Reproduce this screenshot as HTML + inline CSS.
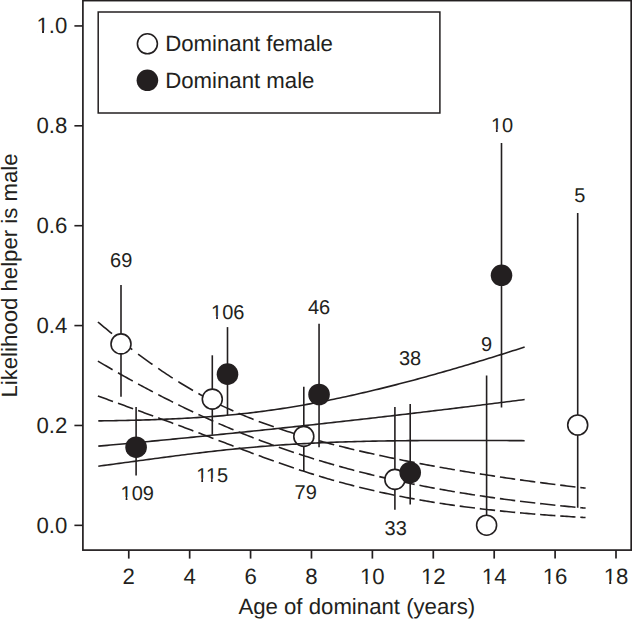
<!DOCTYPE html>
<html><head><meta charset="utf-8"><style>
html,body{margin:0;padding:0;background:#fff;}
svg{display:block;}
text{font-family:"Liberation Sans",sans-serif;fill:#231f20;text-rendering:geometricPrecision;}
.tk{font-size:22.2px;}
.lab{font-size:22.2px;}
.an{font-size:20px;}
</style></head><body>
<svg width="632" height="619" viewBox="0 0 632 619">
<rect width="632" height="619" fill="#fff"/>
<rect x="82.9" y="0.6" width="548.3" height="549.5" fill="none" stroke="#231f20" stroke-width="1.7"/>
<line x1="74.4" y1="525.35" x2="82.9" y2="525.35" stroke="#231f20" stroke-width="1.6"/>
<text x="67.3" y="532.85" text-anchor="end" class="tk">0.0</text>
<line x1="74.4" y1="425.47" x2="82.9" y2="425.47" stroke="#231f20" stroke-width="1.6"/>
<text x="67.3" y="432.97" text-anchor="end" class="tk">0.2</text>
<line x1="74.4" y1="325.58" x2="82.9" y2="325.58" stroke="#231f20" stroke-width="1.6"/>
<text x="67.3" y="333.08" text-anchor="end" class="tk">0.4</text>
<line x1="74.4" y1="225.70" x2="82.9" y2="225.70" stroke="#231f20" stroke-width="1.6"/>
<text x="67.3" y="233.20" text-anchor="end" class="tk">0.6</text>
<line x1="74.4" y1="125.81" x2="82.9" y2="125.81" stroke="#231f20" stroke-width="1.6"/>
<text x="67.3" y="133.31" text-anchor="end" class="tk">0.8</text>
<line x1="74.4" y1="25.93" x2="82.9" y2="25.93" stroke="#231f20" stroke-width="1.6"/>
<text x="67.3" y="33.43" text-anchor="end" class="tk">1.0</text>
<line x1="128.76" y1="550" x2="128.76" y2="558.6" stroke="#231f20" stroke-width="1.7"/>
<text x="128.76" y="583.6" text-anchor="middle" class="tk">2</text>
<line x1="189.66" y1="550" x2="189.66" y2="558.6" stroke="#231f20" stroke-width="1.7"/>
<text x="189.66" y="583.6" text-anchor="middle" class="tk">4</text>
<line x1="250.57" y1="550" x2="250.57" y2="558.6" stroke="#231f20" stroke-width="1.7"/>
<text x="250.57" y="583.6" text-anchor="middle" class="tk">6</text>
<line x1="311.47" y1="550" x2="311.47" y2="558.6" stroke="#231f20" stroke-width="1.7"/>
<text x="311.47" y="583.6" text-anchor="middle" class="tk">8</text>
<line x1="372.38" y1="550" x2="372.38" y2="558.6" stroke="#231f20" stroke-width="1.7"/>
<text x="372.38" y="583.6" text-anchor="middle" class="tk">10</text>
<line x1="433.29" y1="550" x2="433.29" y2="558.6" stroke="#231f20" stroke-width="1.7"/>
<text x="433.29" y="583.6" text-anchor="middle" class="tk">12</text>
<line x1="494.19" y1="550" x2="494.19" y2="558.6" stroke="#231f20" stroke-width="1.7"/>
<text x="494.19" y="583.6" text-anchor="middle" class="tk">14</text>
<line x1="555.10" y1="550" x2="555.10" y2="558.6" stroke="#231f20" stroke-width="1.7"/>
<text x="555.10" y="583.6" text-anchor="middle" class="tk">16</text>
<line x1="616.00" y1="550" x2="616.00" y2="558.6" stroke="#231f20" stroke-width="1.7"/>
<text x="616.00" y="583.6" text-anchor="middle" class="tk">18</text>
<text x="356.8" y="613.5" text-anchor="middle" class="lab">Age of dominant (years)</text>
<text transform="translate(16.9,275.5) rotate(-90)" text-anchor="middle" class="lab">Likelihood helper is male</text>
<rect x="98.2" y="12" width="341.7" height="101" fill="none" stroke="#231f20" stroke-width="1.5"/>
<circle cx="147.4" cy="43.8" r="10.0" fill="#fff" stroke="#231f20" stroke-width="1.6"/>
<circle cx="147.4" cy="80.3" r="10.8" fill="#231f20"/>
<text x="165.2" y="51.1" class="lab">Dominant female</text>
<text x="165.2" y="87.6" class="lab">Dominant male</text>
<path d="M97.90,322.01 L99.92,323.71 L101.94,325.39 L103.96,327.07 L105.99,328.73 L108.01,330.39 L110.03,332.05 L112.05,333.69 M118.00,338.48 L120.04,340.10 L122.09,341.72 L124.13,343.32 L126.17,344.92 L128.21,346.50 L130.26,348.07 L132.30,349.64 M138.10,354.02 L140.16,355.55 L142.21,357.07 L144.27,358.58 L146.33,360.07 L148.39,361.56 L150.44,363.03 L152.50,364.49 M158.20,368.46 L160.28,369.89 L162.36,371.30 L164.44,372.70 L166.51,374.08 L168.59,375.45 L170.67,376.81 L172.75,378.15 M178.30,381.67 L180.40,382.97 L182.50,384.26 L184.60,385.54 L186.70,386.80 L188.80,388.04 L190.90,389.27 L193.00,390.49 M198.40,393.54 L200.51,394.71 L202.63,395.87 L204.74,397.01 L206.86,398.13 L208.97,399.24 L211.09,400.34 L213.20,401.42 M218.50,404.06 L220.63,405.10 L222.76,406.12 L224.89,407.13 L227.01,408.12 L229.14,409.10 L231.27,410.07 L233.40,411.02 M238.60,413.30 L240.74,414.21 L242.89,415.12 L245.03,416.01 L247.17,416.88 L249.31,417.75 L251.46,418.60 L253.60,419.44 M258.70,421.40 L260.86,422.21 L263.01,423.01 L265.17,423.80 L267.33,424.58 L269.49,425.35 L271.64,426.11 L273.80,426.86 M278.80,428.56 L280.96,429.28 L283.13,429.99 L285.29,430.70 L287.46,431.40 L289.62,432.08 L291.79,432.77 L293.95,433.44 M298.90,434.95 L301.06,435.60 L303.23,436.24 L305.39,436.88 L307.56,437.50 L309.72,438.13 L311.89,438.74 L314.05,439.35 M319.00,440.72 L321.17,441.32 L323.34,441.90 L325.51,442.48 L327.69,443.06 L329.86,443.63 L332.03,444.19 L334.20,444.75 M339.10,446.00 L341.27,446.54 L343.44,447.08 L345.61,447.61 L347.79,448.14 L349.96,448.67 L352.13,449.19 L354.30,449.71 M359.20,450.86 L361.38,451.36 L363.56,451.86 L365.74,452.36 L367.91,452.85 L370.09,453.34 L372.27,453.82 L374.45,454.30 M379.30,455.36 L381.48,455.83 L383.66,456.30 L385.84,456.76 L388.01,457.22 L390.19,457.67 L392.37,458.13 L394.55,458.58 M399.40,459.56 L401.58,460.00 L403.76,460.44 L405.94,460.87 L408.11,461.30 L410.29,461.72 L412.47,462.15 L414.65,462.57 M419.50,463.49 L421.68,463.90 L423.86,464.31 L426.04,464.72 L428.21,465.12 L430.39,465.52 L432.57,465.91 L434.75,466.31 M439.60,467.18 L441.78,467.56 L443.96,467.94 L446.14,468.32 L448.31,468.70 L450.49,469.08 L452.67,469.45 L454.85,469.82 M459.70,470.64 L461.88,471.00 L464.06,471.36 L466.24,471.72 L468.41,472.07 L470.59,472.43 L472.77,472.78 L474.95,473.12 M479.80,473.89 L481.99,474.23 L484.17,474.57 L486.36,474.91 L488.54,475.25 L490.73,475.58 L492.91,475.91 L495.10,476.24 M499.90,476.96 L502.09,477.28 L504.27,477.60 L506.46,477.92 L508.64,478.23 L510.83,478.55 L513.01,478.86 L515.20,479.17 M520.00,479.84 L522.19,480.15 L524.37,480.45 L526.56,480.75 L528.74,481.04 L530.93,481.34 L533.11,481.63 L535.30,481.93 M540.10,482.56 L542.29,482.85 L544.47,483.13 L546.66,483.41 L548.84,483.69 L551.03,483.97 L553.21,484.25 L555.40,484.52 M560.20,485.12 L562.39,485.39 L564.57,485.66 L566.76,485.93 L568.94,486.19 L571.13,486.45 L573.31,486.71 L575.50,486.97 M580.30,487.54 L581.05,487.62 L581.80,487.71 L582.55,487.80 L583.30,487.88 L584.05,487.97 L584.80,488.06 L585.55,488.14" fill="none" stroke="#231f20" stroke-width="1.6"/>
<path d="M97.90,361.12 L100.00,362.36 L102.10,363.59 L104.20,364.83 L106.30,366.05 L108.40,367.27 L110.50,368.49 L112.60,369.70 M118.00,372.79 L120.11,373.99 L122.21,375.18 L124.32,376.36 L126.43,377.54 L128.54,378.72 L130.64,379.89 L132.75,381.05 M138.10,383.98 L140.21,385.13 L142.33,386.27 L144.44,387.41 L146.56,388.54 L148.67,389.66 L150.79,390.78 L152.90,391.90 M158.20,394.66 L160.32,395.76 L162.44,396.85 L164.56,397.93 L166.69,399.01 L168.81,400.08 L170.93,401.15 L173.05,402.21 M178.30,404.81 L180.43,405.85 L182.56,406.88 L184.69,407.91 L186.81,408.94 L188.94,409.95 L191.07,410.97 L193.20,411.97 M198.40,414.40 L200.54,415.39 L202.67,416.37 L204.81,417.34 L206.94,418.31 L209.08,419.27 L211.21,420.22 L213.35,421.17 M218.50,423.44 L220.64,424.37 L222.79,425.29 L224.93,426.21 L227.07,427.12 L229.21,428.02 L231.36,428.92 L233.50,429.81 M238.60,431.91 L240.75,432.79 L242.90,433.65 L245.05,434.52 L247.20,435.37 L249.35,436.22 L251.50,437.06 L253.65,437.90 M258.70,439.84 L260.85,440.65 L263.00,441.46 L265.15,442.26 L267.30,443.06 L269.45,443.85 L271.60,444.63 L273.75,445.41 M278.80,447.22 L280.96,447.98 L283.11,448.73 L285.27,449.48 L287.43,450.22 L289.59,450.96 L291.74,451.69 L293.90,452.41 M298.90,454.07 L301.06,454.78 L303.23,455.48 L305.39,456.17 L307.56,456.86 L309.72,457.55 L311.89,458.23 L314.05,458.90 M319.00,460.42 L321.16,461.07 L323.33,461.72 L325.49,462.36 L327.66,463.00 L329.82,463.63 L331.99,464.25 L334.15,464.88 M339.10,466.27 L341.27,466.88 L343.44,467.48 L345.61,468.07 L347.79,468.66 L349.96,469.24 L352.13,469.82 L354.30,470.40 M359.20,471.67 L361.37,472.23 L363.54,472.78 L365.71,473.32 L367.89,473.86 L370.06,474.40 L372.23,474.93 L374.40,475.46 M379.30,476.63 L381.48,477.14 L383.66,477.65 L385.84,478.15 L388.01,478.65 L390.19,479.14 L392.37,479.63 L394.55,480.11 M399.40,481.17 L401.58,481.64 L403.76,482.10 L405.94,482.56 L408.11,483.02 L410.29,483.47 L412.47,483.92 L414.65,484.36 M419.50,485.33 L421.68,485.76 L423.86,486.18 L426.04,486.60 L428.21,487.02 L430.39,487.43 L432.57,487.84 L434.75,488.24 M439.60,489.13 L441.78,489.52 L443.96,489.90 L446.14,490.29 L448.31,490.67 L450.49,491.04 L452.67,491.42 L454.85,491.78 M459.70,492.59 L461.89,492.95 L464.07,493.30 L466.26,493.65 L468.44,494.00 L470.63,494.34 L472.81,494.68 L475.00,495.02 M479.80,495.74 L481.99,496.07 L484.17,496.39 L486.36,496.71 L488.54,497.02 L490.73,497.34 L492.91,497.65 L495.10,497.95 M499.90,498.61 L502.09,498.91 L504.27,499.20 L506.46,499.49 L508.64,499.77 L510.83,500.06 L513.01,500.34 L515.20,500.62 M520.00,501.21 L522.19,501.48 L524.37,501.75 L526.56,502.01 L528.74,502.27 L530.93,502.53 L533.11,502.78 L535.30,503.03 M540.10,503.58 L542.29,503.82 L544.47,504.06 L546.66,504.30 L548.84,504.53 L551.03,504.77 L553.21,505.00 L555.40,505.22 M560.20,505.72 L562.39,505.94 L564.57,506.15 L566.76,506.37 L568.94,506.58 L571.13,506.79 L573.31,507.00 L575.50,507.21 M580.30,507.65 L581.05,507.72 L581.80,507.79 L582.55,507.86 L583.30,507.93 L584.05,507.99 L584.80,508.06 L585.55,508.13" fill="none" stroke="#231f20" stroke-width="1.6"/>
<path d="M97.90,395.99 L100.06,396.77 L102.21,397.55 L104.37,398.33 L106.53,399.11 L108.69,399.89 L110.84,400.68 L113.00,401.46 M118.00,403.26 L120.16,404.04 L122.31,404.82 L124.47,405.60 L126.63,406.38 L128.79,407.16 L130.94,407.95 L133.10,408.73 M138.10,410.54 L140.26,411.32 L142.41,412.10 L144.57,412.89 L146.73,413.67 L148.89,414.46 L151.04,415.24 L153.20,416.03 M158.20,417.86 L160.35,418.64 L162.50,419.43 L164.65,420.22 L166.80,421.01 L168.95,421.80 L171.10,422.60 L173.25,423.39 M178.30,425.26 L180.45,426.06 L182.60,426.86 L184.75,427.67 L186.90,428.47 L189.05,429.27 L191.20,430.08 L193.35,430.89 M198.40,432.79 L200.55,433.60 L202.70,434.41 L204.85,435.23 L207.00,436.04 L209.15,436.86 L211.30,437.67 L213.45,438.49 M218.50,440.41 L220.65,441.23 L222.80,442.05 L224.95,442.87 L227.10,443.68 L229.25,444.50 L231.40,445.32 L233.55,446.14 M238.60,448.05 L240.75,448.86 L242.90,449.68 L245.05,450.49 L247.20,451.29 L249.35,452.10 L251.50,452.90 L253.65,453.71 M258.70,455.58 L260.86,456.37 L263.01,457.16 L265.17,457.95 L267.33,458.73 L269.49,459.51 L271.64,460.29 L273.80,461.06 M278.80,462.84 L280.96,463.59 L283.11,464.35 L285.27,465.09 L287.43,465.84 L289.59,466.57 L291.74,467.31 L293.90,468.03 M298.90,469.70 L301.06,470.41 L303.23,471.11 L305.39,471.81 L307.56,472.51 L309.72,473.19 L311.89,473.87 L314.05,474.55 M319.00,476.07 L321.16,476.73 L323.33,477.37 L325.49,478.02 L327.66,478.65 L329.82,479.28 L331.99,479.90 L334.15,480.52 M339.10,481.91 L341.27,482.50 L343.44,483.09 L345.61,483.68 L347.79,484.26 L349.96,484.83 L352.13,485.39 L354.30,485.95 M359.20,487.19 L361.37,487.73 L363.54,488.26 L365.71,488.78 L367.89,489.30 L370.06,489.82 L372.23,490.32 L374.40,490.82 M379.30,491.93 L381.48,492.41 L383.66,492.89 L385.84,493.36 L388.01,493.83 L390.19,494.28 L392.37,494.74 L394.55,495.18 M399.40,496.16 L401.58,496.59 L403.76,497.01 L405.94,497.43 L408.11,497.84 L410.29,498.25 L412.47,498.65 L414.65,499.04 M419.50,499.91 L421.68,500.28 L423.86,500.66 L426.04,501.03 L428.21,501.39 L430.39,501.75 L432.57,502.10 L434.75,502.45 M439.60,503.21 L441.79,503.54 L443.97,503.87 L446.16,504.20 L448.34,504.52 L450.53,504.84 L452.71,505.15 L454.90,505.46 M459.70,506.12 L461.89,506.41 L464.07,506.70 L466.26,506.98 L468.44,507.26 L470.63,507.54 L472.81,507.81 L475.00,508.08 M479.80,508.66 L481.99,508.92 L484.17,509.17 L486.36,509.42 L488.54,509.67 L490.73,509.91 L492.91,510.15 L495.10,510.38 M499.90,510.89 L502.09,511.11 L504.27,511.33 L506.46,511.55 L508.64,511.76 L510.83,511.97 L513.01,512.18 L515.20,512.39 M520.00,512.83 L522.19,513.02 L524.37,513.21 L526.56,513.40 L528.74,513.59 L530.93,513.77 L533.11,513.95 L535.30,514.13 M540.10,514.52 L542.29,514.69 L544.47,514.85 L546.66,515.02 L548.84,515.18 L551.03,515.34 L553.21,515.50 L555.40,515.65 M560.20,515.98 L562.39,516.13 L564.57,516.28 L566.76,516.42 L568.94,516.56 L571.13,516.70 L573.31,516.83 L575.50,516.97 M580.30,517.26 L581.05,517.30 L581.80,517.34 L582.55,517.39 L583.30,517.43 L584.05,517.48 L584.80,517.52 L585.55,517.56" fill="none" stroke="#231f20" stroke-width="1.6"/>
<line x1="121.0" y1="284.9" x2="121.0" y2="396.8" stroke="#231f20" stroke-width="1.6"/>
<line x1="136.1" y1="407.1" x2="136.1" y2="475.4" stroke="#231f20" stroke-width="1.6"/>
<line x1="212.3" y1="355.3" x2="212.3" y2="434.8" stroke="#231f20" stroke-width="1.6"/>
<line x1="227.5" y1="327.1" x2="227.5" y2="415.4" stroke="#231f20" stroke-width="1.6"/>
<line x1="303.8" y1="386.8" x2="303.8" y2="471.2" stroke="#231f20" stroke-width="1.6"/>
<line x1="319.05" y1="323.7" x2="319.05" y2="447.3" stroke="#231f20" stroke-width="1.6"/>
<line x1="394.9" y1="407.0" x2="394.9" y2="509.8" stroke="#231f20" stroke-width="1.6"/>
<line x1="410.2" y1="404.0" x2="410.2" y2="504.4" stroke="#231f20" stroke-width="1.6"/>
<line x1="486.6" y1="375.5" x2="486.6" y2="525.2" stroke="#231f20" stroke-width="1.6"/>
<line x1="501.5" y1="143.1" x2="501.5" y2="407.5" stroke="#231f20" stroke-width="1.6"/>
<line x1="577.7" y1="212.9" x2="577.7" y2="507.7" stroke="#231f20" stroke-width="1.6"/>
<circle cx="121.0" cy="343.9" r="10.0" fill="#fff" stroke="#231f20" stroke-width="1.6"/>
<circle cx="212.3" cy="399.1" r="10.0" fill="#fff" stroke="#231f20" stroke-width="1.6"/>
<circle cx="303.8" cy="436.4" r="10.0" fill="#fff" stroke="#231f20" stroke-width="1.6"/>
<circle cx="394.9" cy="479.4" r="10.0" fill="#fff" stroke="#231f20" stroke-width="1.6"/>
<circle cx="486.6" cy="525.2" r="10.0" fill="#fff" stroke="#231f20" stroke-width="1.6"/>
<circle cx="577.7" cy="425.0" r="10.0" fill="#fff" stroke="#231f20" stroke-width="1.6"/>
<path d="M98.30,420.89 L101.28,420.86 L104.27,420.82 L107.25,420.77 L110.23,420.73 L113.21,420.68 L116.19,420.63 L119.17,420.57 L122.15,420.52 L125.14,420.45 L128.12,420.39 L131.10,420.32 L134.08,420.25 L137.06,420.17 L140.04,420.09 L143.02,420.01 L146.01,419.92 L148.99,419.83 L151.97,419.73 L154.95,419.63 L157.93,419.52 L160.91,419.41 L163.89,419.29 L166.88,419.17 L169.86,419.04 L172.84,418.91 L175.82,418.77 L178.80,418.62 L181.78,418.47 L184.76,418.31 L187.75,418.14 L190.73,417.97 L193.71,417.79 L196.69,417.61 L199.67,417.41 L202.65,417.21 L205.63,417.00 L208.62,416.79 L211.60,416.56 L214.58,416.33 L217.56,416.09 L220.54,415.84 L223.52,415.58 L226.50,415.31 L229.49,415.04 L232.47,414.75 L235.45,414.46 L238.43,414.15 L241.41,413.84 L244.39,413.51 L247.37,413.18 L250.36,412.84 L253.34,412.48 L256.32,412.12 L259.30,411.75 L262.28,411.36 L265.26,410.97 L268.24,410.57 L271.22,410.15 L274.21,409.73 L277.19,409.29 L280.17,408.85 L283.15,408.40 L286.13,407.93 L289.11,407.46 L292.09,406.97 L295.08,406.48 L298.06,405.98 L301.04,405.46 L304.02,404.94 L307.00,404.41 L309.98,403.87 L312.96,403.32 L315.95,402.76 L318.93,402.19 L321.91,401.61 L324.89,401.03 L327.87,400.43 L330.85,399.83 L333.83,399.21 L336.82,398.59 L339.80,397.97 L342.78,397.33 L345.76,396.68 L348.74,396.03 L351.72,395.37 L354.70,394.70 L357.69,394.03 L360.67,393.34 L363.65,392.65 L366.63,391.96 L369.61,391.25 L372.59,390.54 L375.57,389.82 L378.56,389.10 L381.54,388.37 L384.52,387.63 L387.50,386.89 L390.48,386.14 L393.46,385.38 L396.44,384.62 L399.43,383.85 L402.41,383.07 L405.39,382.29 L408.37,381.51 L411.35,380.71 L414.33,379.91 L417.31,379.11 L420.30,378.30 L423.28,377.49 L426.26,376.67 L429.24,375.84 L432.22,375.01 L435.20,374.18 L438.18,373.34 L441.17,372.49 L444.15,371.64 L447.13,370.79 L450.11,369.93 L453.09,369.06 L456.07,368.19 L459.05,367.32 L462.04,366.44 L465.02,365.56 L468.00,364.67 L470.98,363.78 L473.96,362.88 L476.94,361.98 L479.92,361.07 L482.91,360.17 L485.89,359.25 L488.87,358.34 L491.85,357.41 L494.83,356.49 L497.81,355.56 L500.79,354.63 L503.78,353.69 L506.76,352.75 L509.74,351.81 L512.72,350.86 L515.70,349.91 L518.68,348.95 L521.66,347.99 L524.64,347.03" fill="none" stroke="#231f20" stroke-width="1.6"/>
<path d="M98.30,446.15 L101.28,445.87 L104.27,445.60 L107.25,445.33 L110.23,445.06 L113.21,444.78 L116.19,444.51 L119.17,444.23 L122.15,443.96 L125.14,443.68 L128.12,443.40 L131.10,443.13 L134.08,442.85 L137.06,442.57 L140.04,442.29 L143.02,442.00 L146.01,441.72 L148.99,441.44 L151.97,441.16 L154.95,440.87 L157.93,440.59 L160.91,440.30 L163.89,440.01 L166.88,439.73 L169.86,439.44 L172.84,439.15 L175.82,438.86 L178.80,438.57 L181.78,438.28 L184.76,437.99 L187.75,437.69 L190.73,437.40 L193.71,437.10 L196.69,436.81 L199.67,436.51 L202.65,436.22 L205.63,435.92 L208.62,435.62 L211.60,435.32 L214.58,435.02 L217.56,434.72 L220.54,434.42 L223.52,434.12 L226.50,433.82 L229.49,433.51 L232.47,433.21 L235.45,432.90 L238.43,432.60 L241.41,432.29 L244.39,431.98 L247.37,431.67 L250.36,431.36 L253.34,431.05 L256.32,430.74 L259.30,430.43 L262.28,430.12 L265.26,429.81 L268.24,429.49 L271.22,429.18 L274.21,428.86 L277.19,428.55 L280.17,428.23 L283.15,427.91 L286.13,427.59 L289.11,427.27 L292.09,426.95 L295.08,426.63 L298.06,426.31 L301.04,425.99 L304.02,425.67 L307.00,425.34 L309.98,425.02 L312.96,424.69 L315.95,424.36 L318.93,424.04 L321.91,423.71 L324.89,423.38 L327.87,423.05 L330.85,422.72 L333.83,422.39 L336.82,422.06 L339.80,421.72 L342.78,421.39 L345.76,421.06 L348.74,420.72 L351.72,420.38 L354.70,420.05 L357.69,419.71 L360.67,419.37 L363.65,419.03 L366.63,418.69 L369.61,418.35 L372.59,418.01 L375.57,417.67 L378.56,417.33 L381.54,416.98 L384.52,416.64 L387.50,416.29 L390.48,415.95 L393.46,415.60 L396.44,415.25 L399.43,414.90 L402.41,414.55 L405.39,414.20 L408.37,413.85 L411.35,413.50 L414.33,413.15 L417.31,412.79 L420.30,412.44 L423.28,412.08 L426.26,411.73 L429.24,411.37 L432.22,411.02 L435.20,410.66 L438.18,410.30 L441.17,409.94 L444.15,409.58 L447.13,409.22 L450.11,408.86 L453.09,408.49 L456.07,408.13 L459.05,407.76 L462.04,407.40 L465.02,407.03 L468.00,406.67 L470.98,406.30 L473.96,405.93 L476.94,405.56 L479.92,405.19 L482.91,404.82 L485.89,404.45 L488.87,404.08 L491.85,403.70 L494.83,403.33 L497.81,402.96 L500.79,402.58 L503.78,402.21 L506.76,401.83 L509.74,401.45 L512.72,401.07 L515.70,400.69 L518.68,400.31 L521.66,399.93 L524.64,399.55" fill="none" stroke="#231f20" stroke-width="1.6"/>
<path d="M98.30,466.21 L101.28,465.81 L104.27,465.40 L107.25,465.00 L110.23,464.60 L113.21,464.20 L116.19,463.79 L119.17,463.39 L122.15,462.99 L125.14,462.58 L128.12,462.18 L131.10,461.78 L134.08,461.37 L137.06,460.97 L140.04,460.57 L143.02,460.17 L146.01,459.77 L148.99,459.37 L151.97,458.97 L154.95,458.57 L157.93,458.17 L160.91,457.78 L163.89,457.39 L166.88,457.00 L169.86,456.61 L172.84,456.22 L175.82,455.83 L178.80,455.45 L181.78,455.07 L184.76,454.70 L187.75,454.32 L190.73,453.95 L193.71,453.58 L196.69,453.22 L199.67,452.86 L202.65,452.50 L205.63,452.15 L208.62,451.80 L211.60,451.46 L214.58,451.12 L217.56,450.78 L220.54,450.45 L223.52,450.13 L226.50,449.81 L229.49,449.50 L232.47,449.19 L235.45,448.88 L238.43,448.59 L241.41,448.29 L244.39,448.01 L247.37,447.73 L250.36,447.46 L253.34,447.19 L256.32,446.93 L259.30,446.67 L262.28,446.42 L265.26,446.18 L268.24,445.94 L271.22,445.71 L274.21,445.49 L277.19,445.27 L280.17,445.06 L283.15,444.86 L286.13,444.66 L289.11,444.46 L292.09,444.28 L295.08,444.10 L298.06,443.92 L301.04,443.75 L304.02,443.59 L307.00,443.43 L309.98,443.28 L312.96,443.14 L315.95,442.99 L318.93,442.86 L321.91,442.73 L324.89,442.60 L327.87,442.48 L330.85,442.36 L333.83,442.25 L336.82,442.15 L339.80,442.04 L342.78,441.95 L345.76,441.85 L348.74,441.76 L351.72,441.68 L354.70,441.59 L357.69,441.51 L360.67,441.44 L363.65,441.37 L366.63,441.30 L369.61,441.24 L372.59,441.17 L375.57,441.12 L378.56,441.06 L381.54,441.01 L384.52,440.96 L387.50,440.91 L390.48,440.87 L393.46,440.83 L396.44,440.79 L399.43,440.75 L402.41,440.72 L405.39,440.69 L408.37,440.66 L411.35,440.63 L414.33,440.60 L417.31,440.58 L420.30,440.56 L423.28,440.54 L426.26,440.52 L429.24,440.51 L432.22,440.49 L435.20,440.48 L438.18,440.47 L441.17,440.46 L444.15,440.45 L447.13,440.45 L450.11,440.44 L453.09,440.44 L456.07,440.43 L459.05,440.43 L462.04,440.43 L465.02,440.44 L468.00,440.44 L470.98,440.44 L473.96,440.45 L476.94,440.45 L479.92,440.46 L482.91,440.47 L485.89,440.48 L488.87,440.49 L491.85,440.50 L494.83,440.51 L497.81,440.53 L500.79,440.54 L503.78,440.56 L506.76,440.57 L509.74,440.59 L512.72,440.61 L515.70,440.62 L518.68,440.64 L521.66,440.66 L524.64,440.68" fill="none" stroke="#231f20" stroke-width="1.6"/>
<circle cx="136.1" cy="447.2" r="10.8" fill="#231f20"/>
<circle cx="227.5" cy="374.15" r="10.8" fill="#231f20"/>
<circle cx="319.05" cy="394.5" r="10.8" fill="#231f20"/>
<circle cx="410.2" cy="472.5" r="10.8" fill="#231f20"/>
<circle cx="501.5" cy="275.3" r="10.8" fill="#231f20"/>
<text x="121.2" y="267.4" text-anchor="middle" class="an">69</text>
<text x="137.3" y="500.0" text-anchor="middle" class="an">109</text>
<text x="227.8" y="319.0" text-anchor="middle" class="an">106</text>
<text x="212.2" y="481.5" text-anchor="middle" class="an">115</text>
<text x="319" y="314.2" text-anchor="middle" class="an">46</text>
<text x="305.7" y="498.7" text-anchor="middle" class="an">79</text>
<text x="410" y="364.8" text-anchor="middle" class="an">38</text>
<text x="395.7" y="535.4" text-anchor="middle" class="an">33</text>
<text x="486.5" y="351.2" text-anchor="middle" class="an">9</text>
<text x="502" y="132.2" text-anchor="middle" class="an">10</text>
<text x="579.8" y="202.3" text-anchor="middle" class="an">5</text>
<rect x="37.15" y="30.43" width="4.89" height="4.2" fill="#fff"/><rect x="44.00" y="30.43" width="4.72" height="4.2" fill="#fff"/><rect x="360.73" y="580.60" width="4.89" height="4.2" fill="#fff"/><rect x="367.58" y="580.60" width="4.72" height="4.2" fill="#fff"/><rect x="421.64" y="580.60" width="4.89" height="4.2" fill="#fff"/><rect x="428.49" y="580.60" width="4.72" height="4.2" fill="#fff"/><rect x="482.54" y="580.60" width="4.89" height="4.2" fill="#fff"/><rect x="489.39" y="580.60" width="4.72" height="4.2" fill="#fff"/><rect x="543.45" y="580.60" width="4.89" height="4.2" fill="#fff"/><rect x="550.30" y="580.60" width="4.72" height="4.2" fill="#fff"/><rect x="604.35" y="580.60" width="4.89" height="4.2" fill="#fff"/><rect x="611.20" y="580.60" width="4.72" height="4.2" fill="#fff"/><rect x="121.14" y="497.00" width="4.51" height="4.2" fill="#fff"/><rect x="127.41" y="497.00" width="4.35" height="4.2" fill="#fff"/><rect x="211.64" y="316.00" width="4.51" height="4.2" fill="#fff"/><rect x="217.91" y="316.00" width="4.35" height="4.2" fill="#fff"/><rect x="196.78" y="478.50" width="4.51" height="4.2" fill="#fff"/><rect x="203.05" y="478.50" width="4.35" height="4.2" fill="#fff"/><rect x="206.40" y="478.50" width="4.51" height="4.2" fill="#fff"/><rect x="212.68" y="478.50" width="4.35" height="4.2" fill="#fff"/><rect x="491.40" y="129.20" width="4.51" height="4.2" fill="#fff"/><rect x="497.67" y="129.20" width="4.35" height="4.2" fill="#fff"/>
</svg>
</body></html>
